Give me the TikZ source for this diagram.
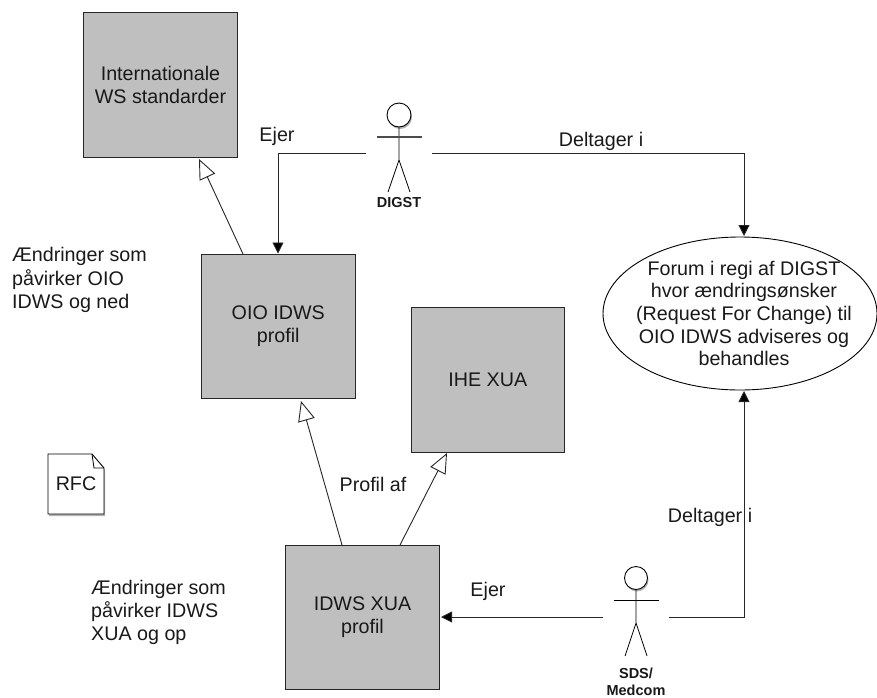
\documentclass[tikz,border=0pt]{standalone}
\usepackage{fontspec}
\setmainfont{Liberation Sans}
\usetikzlibrary{arrows.meta,shadows,calc,shapes.geometric}
\tikzset{
  x=1pt,y=-1pt,
  boxn/.style={draw=black!85,line width=0.9pt,fill=black!25,minimum width=153.5pt,minimum height=144.5pt,inner sep=0pt,align=center,font=\fontsize{19.7}{23}\selectfont,text=black!90},
  lbl/.style={inner sep=0pt,align=left,font=\fontsize{19.7}{23.3}\selectfont,text=black!90},
  act/.style={inner sep=0pt,align=center,font=\bfseries\fontsize{14.5}{16.5}\selectfont,text=black!90},
  conn/.style={draw=black!85,line width=0.9pt},
  own/.style={conn,-{Triangle[length=11pt,width=11pt,fill=black]}},
  prof/.style={conn,-{Triangle[open,length=20pt,width=17pt,fill=white]}},
  limb/.style={draw=black,line width=0.8pt},
  softshadow/.style={drop shadow={shadow xshift=1pt,shadow yshift=-2pt,opacity=0.3,fill=black}},
}
\begin{document}
\begin{tikzpicture}
\useasboundingbox (0,0) rectangle (877,697);
\clip (0,0) rectangle (877,697);
\node[boxn] (intl) at (160.5,85) {Internationale\\WS standarder};
\node[boxn] (oio) at (278.25,326.5) {OIO IDWS\\profil};
\node[boxn] (ihe) at (487.75,380) {IHE XUA};
\node[boxn] (xua) at (362.5,617.5) {IDWS XUA\\profil};
\node[draw=black,line width=0.9pt,ellipse,fill=white,minimum width=274pt,minimum height=153pt,inner sep=0pt] (forum) at (740,313.5) {};
\node[inner sep=0pt,align=center,font=\fontsize{19.7}{22.7}\selectfont,text=black!90] (forumtext) at (744,313.5) {Forum i regi af DIGST\\hvor ændringsønsker\\(Request For Change) til\\OIO IDWS adviseres og\\behandles};
% DIGST actor
\node[circle,draw=black,line width=0.9pt,fill=white,minimum size=24pt,inner sep=0pt,softshadow] (digst) at (399,115) {};
\coordinate (dhip) at (399,160);
\draw[limb] (digst.south) -- (dhip) (dhip) -- (388,192) (dhip) -- (410,192);
\draw[draw=black!70,line width=1.3pt] (377,137) -- (422,137);
\node[act] (digstl) at (399,203) {DIGST};
% SDS actor
\node[circle,draw=black,line width=0.9pt,fill=white,minimum size=23pt,inner sep=0pt,softshadow] (sds) at (636,578) {};
\coordinate (ship) at (636,623);
\draw[limb] (sds.south) -- (ship) (ship) -- (625,656) (ship) -- (647,656);
\draw[limb] (614,600) -- (659,600);
\node[act] (sdsl) at (636,682) {SDS/\\Medcom};
% connectors
\coordinate (d1) at (366,153);
\coordinate (d2) at (432,153);
\coordinate (s1) at (603,617);
\coordinate (s2) at (669,617);
\draw[own] (d1) -| (278,253.5);
\draw[own] (d2) -| (744,236);
\draw[own] (s1) -- (441,617);
\draw[own] (s2) -| (744,391);
\draw[prof] (243,254) -- (199,159);
\draw[prof] (342,545) -- (301,401);
\draw[prof] (400,545) -- (447,453);
% RFC doc
\draw[draw=black,line width=0.9pt,fill=white,softshadow] (48,454) -- (92,454) -- (104,468) -- (104,514) -- (48,514) -- cycle;
\draw[draw=black,line width=0.8pt] (92,454) -- (94,468) -- (104,468);
\node[inner sep=0pt,font=\fontsize{19.7}{23}\selectfont,text=black!90] (rfc) at (76,484) {RFC};
% labels
\node[lbl] (ejer1) at (277,136) {Ejer};
\node[lbl] (del1) at (601,141) {Deltager i};
\node[lbl] (del2) at (710,517) {Deltager i};
\node[lbl] (ejer2) at (488,591) {Ejer};
\node[lbl] (prof) at (373,484) {Profil af};
\node[lbl,anchor=west] (aend1) at (12,280) {Ændringer som\\påvirker OIO\\IDWS og ned};
\node[lbl,anchor=west] (aend2) at (91,612.5) {Ændringer som\\påvirker IDWS\\XUA og op};
\end{tikzpicture}
\end{document}
